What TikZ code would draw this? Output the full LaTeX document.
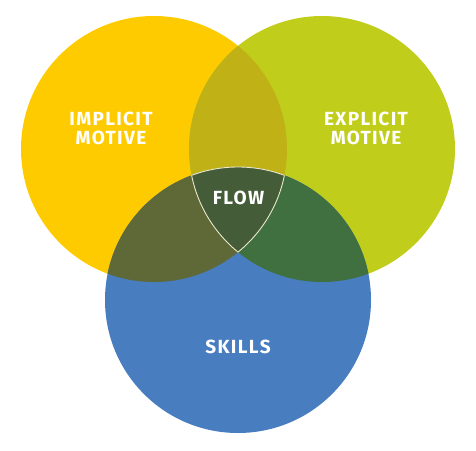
\documentclass[tikz,border=0pt]{standalone}
\usepackage{fontspec}
\setmainfont{Fira Sans}
\newfontfamily\lblfont[LetterSpace=7]{Fira Sans}
\definecolor{cyel}{HTML}{FECB00}
\definecolor{cgrn}{HTML}{C1CD1B}
\definecolor{cblu}{HTML}{487DBF}
\definecolor{cyg}{HTML}{BFB116}
\definecolor{cyb}{HTML}{5F6837}
\definecolor{cgb}{HTML}{40703F}
\definecolor{cygb}{HTML}{445C38}
\definecolor{cedge}{HTML}{ECE8CC}
\begin{document}
\begin{tikzpicture}[x=1pt,y=-1pt,
  lbl/.style={text=white,font=\lblfont\fontsize{19}{19}\selectfont\bfseries,align=center,inner sep=0pt},
  edge/.style={draw=cedge,line width=0.9pt}]
\useasboundingbox (0,0) rectangle (476,450);
\def\R{133}
\coordinate (A) at (154,149);
\coordinate (B) at (322,149);
\coordinate (C) at (238,300);
\fill[cyel] (A) circle (\R);
\fill[cgrn] (B) circle (\R);
\fill[cblu] (C) circle (\R);
\begin{scope}
  \clip (A) circle (\R);
  \fill[cyg] (B) circle (\R);
  \fill[cyb] (C) circle (\R);
\end{scope}
\begin{scope}
  \clip (B) circle (\R);
  \fill[cgb] (C) circle (\R);
\end{scope}
\begin{scope}
  \clip (A) circle (\R);
  \clip (B) circle (\R);
  \fill[cygb] (C) circle (\R);
  \draw[edge] (C) circle (\R);
\end{scope}
\begin{scope}
  \clip (A) circle (\R);
  \clip (C) circle (\R);
  \draw[edge] (B) circle (\R);
\end{scope}
\begin{scope}
  \clip (B) circle (\R);
  \clip (C) circle (\R);
  \draw[edge] (A) circle (\R);
\end{scope}
\node[lbl] (imp) at (111,128.5) {IMPLICIT\\[0pt]MOTIVE};
\node[lbl] (exp) at (366,128.5) {EXPLICIT\\[0pt]MOTIVE};
\node[lbl] (flow) at (238.5,198) {FLOW};
\node[lbl] (sk) at (238,347) {SKILLS};
\end{tikzpicture}
\end{document}
